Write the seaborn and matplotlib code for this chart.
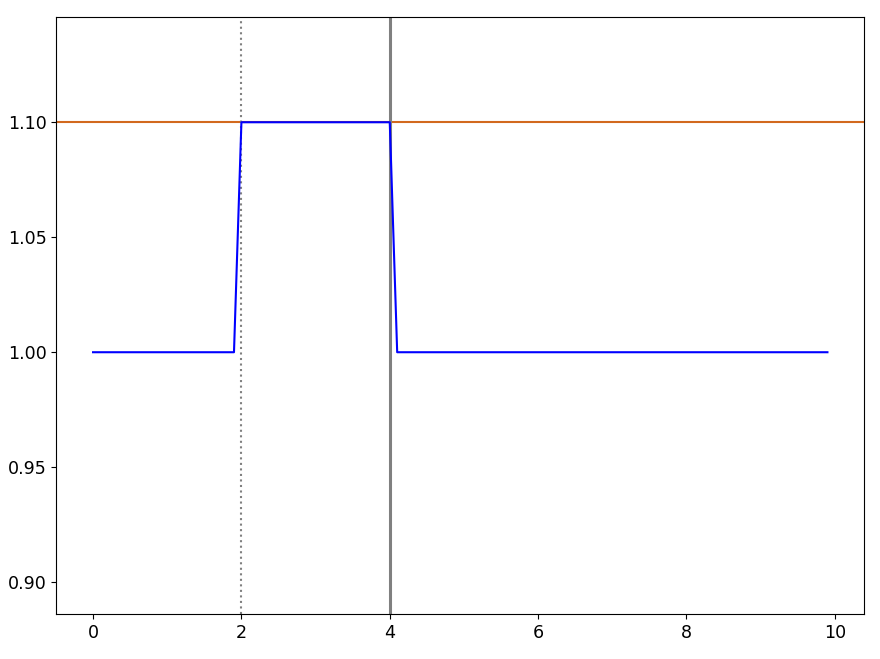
import numpy as np
import pandas as pd
import matplotlib
matplotlib.use("Agg")
import matplotlib.pyplot as plt
import seaborn as sns

# time axis and signal values
t = [round(0.1 * i, 1) for i in range(100)]
signal = [1.1 if 2.0 <= v <= 4.0 else 1.0 for v in t]
threshold = 1.1
start_mark = 2.0
end_mark = 4.0

df = pd.DataFrame({"t": t, "signal": signal})

plt.rcParams["font.size"] = 12.6
fig, ax = plt.subplots(figsize=(8.8, 6.59), dpi=100)
fig.subplots_adjust(left=0.064, right=0.982, top=0.974, bottom=0.068)

ax.axhline(threshold, color="#d2691e", linewidth=1.5, zorder=1)
ax.axvline(start_mark, color="grey", linestyle=":", linewidth=1.5, zorder=1)
ax.axvline(end_mark, color="grey", linewidth=2.2, zorder=1)
sns.lineplot(data=df, x="t", y="signal", color="blue", linewidth=1.5, ax=ax, zorder=3)

ax.set_ylim(0.8861, 1.1457)
ax.set_yticks([0.90, 0.95, 1.00, 1.05, 1.10])
ax.set_yticklabels(["0.90", "0.95", "1.00", "1.05", "1.10"])
ax.set_xlabel("")
ax.set_ylabel("")

fig.savefig("out.png", dpi=100)
